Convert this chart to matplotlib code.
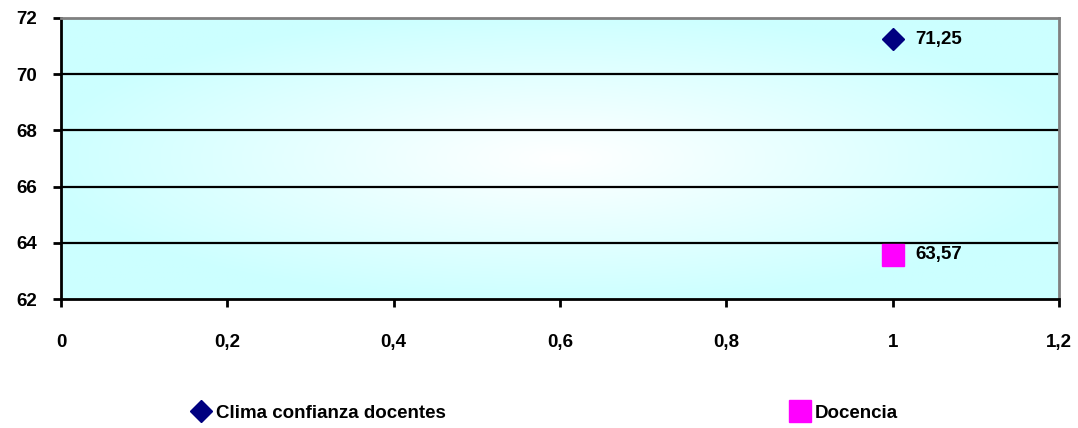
import numpy as np
import matplotlib
matplotlib.use("Agg")
import matplotlib.pyplot as plt
from matplotlib.ticker import FuncFormatter, MultipleLocator
from matplotlib.colors import LinearSegmentedColormap

# data
x_vals = [1]
clima = [71.25]
docencia = [63.57]
series_names = ["Clima confianza docentes", "Docencia"]

plt.rcParams["font.family"] = ["Liberation Sans", "DejaVu Sans"]
plt.rcParams["font.weight"] = "bold"

fig = plt.figure(figsize=(10.78, 4.28), dpi=100)
ax = fig.add_axes([0.0566, 0.3014, 0.9258, 0.6566])

# radial gradient background: white centre -> pale cyan edges
gx, gy = np.meshgrid(np.linspace(-1, 1, 300), np.linspace(-1, 1, 120))
r = np.clip(np.sqrt(gx**2 + gy**2) * 0.95, 0, 1)
cmap = LinearSegmentedColormap.from_list("bg", ["#ffffff", "#ccffff"])
ax.imshow(r, cmap=cmap, extent=[0, 1, 0, 1], transform=ax.transAxes,
          aspect="auto", zorder=0, vmin=0, vmax=1)

ax.set_xlim(0, 1.2)
ax.set_ylim(62, 72)
ax.xaxis.set_major_locator(MultipleLocator(0.2))
ax.yaxis.set_major_locator(MultipleLocator(2))
fmt = FuncFormatter(lambda v, p: f"{v:g}".replace(".", ","))
ax.xaxis.set_major_formatter(fmt)
ax.yaxis.set_major_formatter(fmt)

for yv in [64, 66, 68, 70]:
    ax.axhline(yv, color="black", lw=1.6, zorder=1)

ax.plot(x_vals, clima, ls="none", marker="D", ms=11.7, color="#000080",
        label=series_names[0], zorder=3)
ax.plot(x_vals, docencia, ls="none", marker="s", ms=15.5, color="#ff00ff",
        label=series_names[1], zorder=3)

for xs, ys in [(x_vals, clima), (x_vals, docencia)]:
    for xv, yv in zip(xs, ys):
        ax.annotate(f"{yv:.2f}".replace(".", ","), (xv, yv), xytext=(16, 0),
                    textcoords="offset points", va="center", ha="left",
                    fontsize=13.5, fontweight="bold")

for side in ["left", "bottom"]:
    ax.spines[side].set_color("black")
    ax.spines[side].set_linewidth(2)
for side in ["top", "right"]:
    ax.spines[side].set_color("#808080")
    ax.spines[side].set_linewidth(2)

ax.tick_params(axis="both", direction="out", length=6, width=2, labelsize=13.5)
ax.tick_params(axis="x", pad=19)
ax.tick_params(axis="y", pad=11)
ax.tick_params(top=False, right=False)

fig.legend(loc="center left", bbox_to_anchor=(0.162, 0.035), ncol=2,
           frameon=False, fontsize=13.5, columnspacing=18.4,
           handletextpad=0.3, handlelength=1.0)

fig.savefig("out.png", dpi=100, facecolor="white")
